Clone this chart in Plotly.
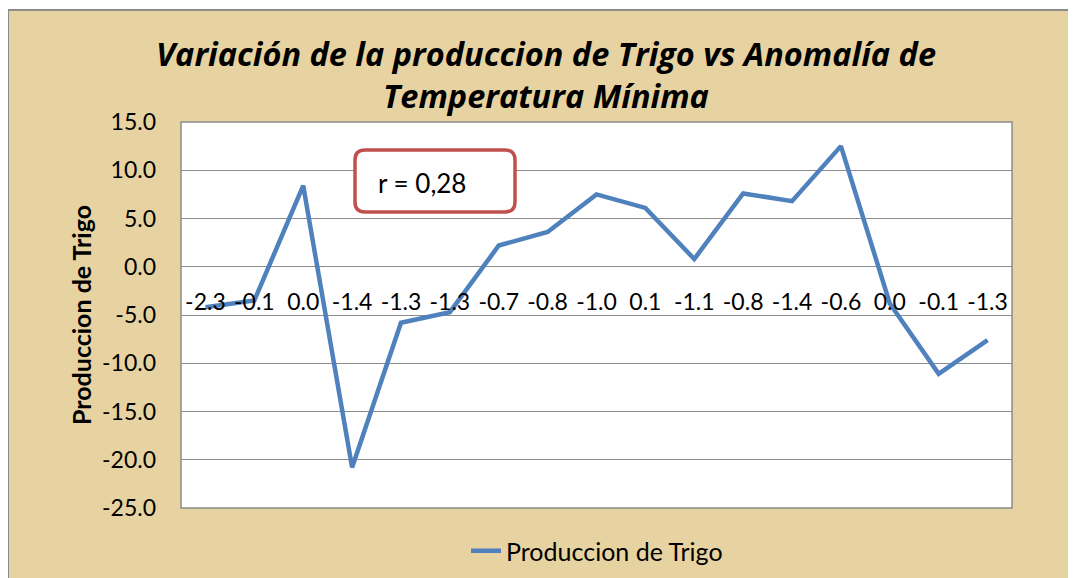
import plotly.graph_objects as go

anomalia_labels = ["-2.3", "-0.1", "0.0", "-1.4", "-1.3", "-1.3", "-0.7", "-0.8", "-1.0",
                   "0.1", "-1.1", "-0.8", "-1.4", "-0.6", "0.0", "-0.1", "-1.3"]
produccion_trigo = [-4.2, -3.5, 8.4, -20.8, -5.8, -4.7, 2.2, 3.6, 7.5,
                    6.1, 0.8, 7.6, 6.8, 12.5, -3.8, -11.1, -7.6]
y_ticks = [15, 10, 5, 0, -5, -10, -15, -20, -25]
y_ticktext = ["15.0", "10.0", "5.0", "0.0", "-5.0", "-10.0", "-15.0", "-20.0", "-25.0"]

x_idx = list(range(len(anomalia_labels)))

PARCH = "#E7D3A1"
FONT = "Lato"

# page has an 8px body margin; work in reference pixel coords and shift by OFF
OFF = 8
W, H = 1076 - OFF, 578 - OFF
L, R, T, B = 181 - OFF, 1076 - 1012, 122 - OFF, 578 - 508
pw, ph = W - L - R, H - T - B


def px_x(p):
    return (p - OFF - L) / pw


def px_y(p):
    return (H - B - (p - OFF)) / ph


fig = go.Figure()
fig.add_trace(go.Scatter(
    x=x_idx, y=produccion_trigo, mode="lines",
    name="Produccion de Trigo",
    line=dict(color="#4F81BD", width=4.5),
))

# rounded box for r annotation
x0, x1 = px_x(355), px_x(515)
y0, y1 = px_y(212), px_y(150)
rx, ry = 10 / pw, 10 / ph
path = (f"M {x0+rx},{y1} L {x1-rx},{y1} Q {x1},{y1} {x1},{y1-ry} "
        f"L {x1},{y0+ry} Q {x1},{y0} {x1-rx},{y0} L {x0+rx},{y0} "
        f"Q {x0},{y0} {x0},{y0+ry} L {x0},{y1-ry} Q {x0},{y1} {x0+rx},{y1} Z")

shapes = [
    dict(type="rect", xref="paper", yref="paper",
         x0=px_x(8), x1=px_x(1100), y0=px_y(620), y1=px_y(10),
         fillcolor=PARCH, line=dict(color="#8C8C8C", width=2), layer="below"),
    dict(type="rect", xref="paper", yref="paper", x0=0, x1=1, y0=0, y1=1,
         fillcolor="white", line=dict(color="#8C8C8C", width=1.5), layer="below"),
    dict(type="path", xref="paper", yref="paper", path=path,
         fillcolor="white", line=dict(color="#C0504D", width=3.5), layer="above"),
]

zero_pos = (0 - (-25)) / 40.0

fig.update_layout(
    width=W, height=H,
    margin=dict(l=L, r=R, t=T, b=B, autoexpand=False),
    paper_bgcolor="white",
    plot_bgcolor="rgba(0,0,0,0)",
    shapes=shapes,
    title=dict(
        text="<b><i>Variación de la produccion de Trigo vs Anomalía de<br>Temperatura Mínima</i></b>",
        x=(546 - OFF) / W, xanchor="center", xref="container",
        y=1 - (66 - OFF) / H, yanchor="top", yref="container",
        font=dict(family="Open Sans", size=32.5, color="black"),
    ),
    xaxis=dict(
        range=[-0.5, len(x_idx) - 0.5],
        tickmode="array", tickvals=x_idx, ticktext=anomalia_labels,
        anchor="free", position=zero_pos,
        showgrid=False, zeroline=False, showline=False,
        ticks="outside", ticklen=15, tickcolor="rgba(0,0,0,0)",
        tickfont=dict(family=FONT, size=23, color="black"),
        fixedrange=True,
    ),
    yaxis=dict(
        range=[-25, 15],
        tickmode="array", tickvals=y_ticks, ticktext=y_ticktext,
        showgrid=True, gridcolor="#8C8C8C", gridwidth=1,
        zeroline=False, showline=False,
        ticks="", ticklabelstandoff=24,
        tickfont=dict(family=FONT, size=23, color="black"),
        title=dict(text="<b>Produccion de Trigo</b>", standoff=3,
                   font=dict(family=FONT, size=25, color="black")),
    ),
    showlegend=True,
    legend=dict(
        orientation="h", x=(597 - OFF) / W, xref="container", xanchor="center",
        y=1 - (551 - OFF) / H, yref="container", yanchor="middle",
        font=dict(family=FONT, size=25, color="black"),
        bgcolor="rgba(0,0,0,0)",
    ),
    annotations=[
        dict(text="r = 0,28", xref="paper", yref="paper",
             x=px_x(376), y=px_y(183), xanchor="left", yanchor="middle",
             showarrow=False, font=dict(family=FONT, size=26, color="black")),
    ],
)

fig.write_html("out.html")
